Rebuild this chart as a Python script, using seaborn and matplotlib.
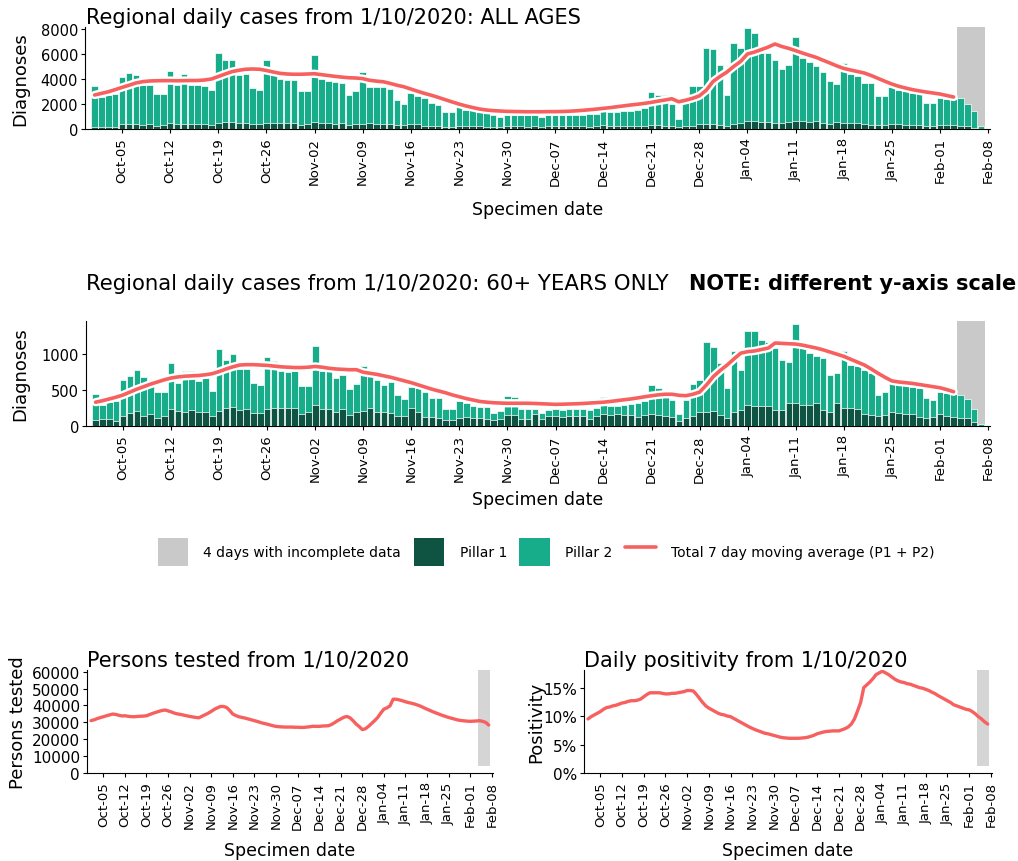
import matplotlib
matplotlib.use("Agg")
import matplotlib.pyplot as plt
import matplotlib.patheffects as pe
from matplotlib.patches import Patch
from matplotlib.lines import Line2D
import pandas as pd
import seaborn as sns

# ---- data (1 Oct 2020 .. 7 Feb 2021, one value per day) ----
dates = pd.date_range("2020-10-01", "2021-02-07", freq="D")
tick_labels = ["Oct-05", "Oct-12", "Oct-19", "Oct-26", "Nov-02", "Nov-09", "Nov-16",
               "Nov-23", "Nov-30", "Dec-07", "Dec-14", "Dec-21", "Dec-28", "Jan-04",
               "Jan-11", "Jan-18", "Jan-25", "Feb-01", "Feb-08"]

all_total = [3450, 2600, 2700, 2800, 4200, 4450, 4300,
             3500, 3500, 2800, 2800, 4650, 3500, 4400,
             3500, 3550, 3450, 3100, 6100, 5550, 5500,
             4300, 4400, 3300, 3150, 5500, 4800, 4000,
             3950, 3950, 3050, 3050, 5900, 4000, 3850,
             3750, 3700, 2750, 3050, 4550, 3400, 3400,
             3350, 3200, 2300, 2000, 2850, 2650, 2500,
             2100, 1950, 1350, 1350, 1750, 1550, 1500,
             1400, 1250, 1150, 950, 1150, 1150, 1100,
             1100, 1100, 950, 1100, 1100, 1100, 1100,
             1150, 1150, 1200, 1200, 2000, 1350, 1400,
             1450, 1450, 1500, 1650, 3000, 2750, 2750,
             2000, 800, 2100, 3450, 3450, 6500, 6400,
             5100, 2700, 6850, 6450, 8100, 7650, 6100,
             6100, 5550, 4800, 5100, 7350, 5700, 5330,
             5070, 4540, 3880, 3620, 5300, 4400, 4250,
             3700, 3680, 2620, 2640, 3400, 3150, 3050,
             2880, 2860, 2050, 2050, 2500, 2400, 2380,
             2450, 1980, 1450, 280]
all_p1 = [200, 180, 190, 170, 380, 420, 430,
          350, 380, 260, 300, 450, 430, 420,
          440, 400, 410, 300, 520, 560, 600,
          480, 500, 380, 380, 520, 500, 480,
          490, 470, 330, 380, 600, 480, 470,
          420, 450, 320, 400, 430, 460, 400,
          400, 380, 300, 300, 430, 380, 280,
          260, 230, 180, 180, 240, 260, 240,
          230, 200, 170, 190, 280, 270, 220,
          200, 280, 190, 250, 260, 240, 250,
          250, 250, 190, 260, 290, 270, 270,
          270, 270, 230, 260, 320, 290, 280,
          250, 140, 230, 280, 400, 400, 430,
          330, 230, 420, 450, 650, 620, 600,
          600, 500, 480, 600, 680, 620, 600,
          620, 480, 420, 580, 520, 500, 480,
          380, 360, 320, 340, 420, 380, 360,
          360, 300, 260, 280, 340, 310, 290,
          270, 240, 120, 20]
all_avg = [2720, 2850, 2980, 3150, 3330, 3500, 3680,
           3790, 3840, 3860, 3870, 3870, 3860, 3870,
           3880, 3880, 3920, 4000, 4200, 4400, 4590,
           4700, 4780, 4800, 4780, 4680, 4560, 4450,
           4400, 4380, 4380, 4400, 4420, 4350, 4280,
           4210, 4150, 4100, 4080, 4030, 3900, 3830,
           3780, 3650, 3500, 3380, 3200, 3020, 2850,
           2700, 2530, 2350, 2170, 2000, 1850, 1720,
           1600, 1520, 1470, 1440, 1410, 1400, 1390,
           1380, 1380, 1380, 1390, 1390, 1400, 1420,
           1450, 1490, 1540, 1590, 1650, 1710, 1780,
           1850, 1920, 1980, 2050, 2130, 2230, 2320,
           2420, 2180, 2300, 2450, 2650, 3100, 3800,
           4200, 4550, 5000, 5400, 6000, 6150, 6350,
           6550, 6800, 6600, 6450, 6270, 6080, 5900,
           5730, 5500, 5280, 5050, 4850, 4720, 4600,
           4480, 4280, 4050, 3820, 3600, 3420, 3280,
           3150, 3050, 2960, 2880, 2800, 2680, 2560]

old_total = [440, 290, 330, 350, 640, 695, 780,
             685, 555, 475, 470, 870, 600, 760,
             760, 625, 660, 485, 1070, 915, 995,
             785, 785, 590, 570, 950, 900, 765,
             755, 765, 555, 555, 1115, 765, 765,
             660, 710, 515, 580, 830, 790, 640,
             570, 615, 430, 375, 545, 525, 470,
             385, 385, 235, 235, 340, 315, 280,
             270, 260, 185, 210, 410, 400, 235,
             230, 235, 175, 220, 230, 220, 230,
             230, 230, 215, 255, 405, 280, 280,
             290, 300, 315, 340, 570, 525, 400,
             360, 160, 360, 580, 640, 1160, 1090,
             870, 525, 1045, 780, 1310, 1310, 1195,
             1170, 1080, 915, 885, 1410, 1080, 1010,
             975, 940, 710, 730, 1040, 850, 825,
             780, 730, 430, 475, 650, 600, 570,
             545, 530, 385, 360, 470, 455, 445,
             430, 375, 230, 25]
old_p1 = [83, 92, 97, 70, 140, 185, 210,
          140, 160, 105, 140, 230, 210, 200,
          220, 190, 200, 140, 210, 245, 270,
          215, 230, 185, 185, 230, 255, 255,
          255, 245, 165, 200, 290, 230, 230,
          190, 230, 150, 200, 210, 245, 200,
          200, 185, 145, 145, 245, 200, 130,
          130, 105, 83, 83, 115, 130, 115,
          115, 92, 83, 92, 150, 150, 92,
          97, 160, 97, 140, 145, 130, 140,
          140, 140, 97, 140, 160, 150, 160,
          150, 150, 130, 150, 165, 150, 140,
          130, 70, 115, 140, 200, 190, 210,
          150, 105, 200, 220, 290, 280, 280,
          280, 220, 220, 315, 325, 290, 290,
          315, 220, 200, 315, 245, 245, 230,
          160, 150, 140, 150, 200, 175, 160,
          165, 130, 105, 130, 160, 140, 130,
          115, 105, 50, 5]
old_avg = [330, 350, 375, 400, 430, 470, 510,
           545, 580, 610, 640, 665, 680, 690,
           695, 700, 710, 725, 755, 790, 820,
           845, 850, 850, 845, 840, 830, 820,
           815, 810, 810, 815, 825, 815, 800,
           790, 785, 780, 780, 745, 730, 715,
           695, 675, 650, 625, 600, 570, 540,
           510, 485, 460, 430, 405, 380, 360,
           340, 330, 322, 318, 315, 315, 315,
           315, 312, 308, 304, 300, 302, 305,
           308, 312, 318, 324, 330, 340, 352,
           364, 375, 390, 405, 420, 432, 440,
           440, 425, 420, 440, 470, 570, 685,
           770, 845, 930, 1010, 1030, 1040, 1060,
           1080, 1150, 1145, 1140, 1135, 1120, 1100,
           1080, 1055, 1025, 995, 965, 925, 885,
           845, 790, 730, 675, 625, 610, 600,
           590, 575, 560, 545, 530, 505, 475]

persons_tested = [31000, 31500, 32200, 32800, 33300, 33900, 34400,
                  34900, 34700, 34200, 33800, 33900, 33600, 33400,
                  33300, 33500, 33600, 33700, 33900, 34600, 35300,
                  35900, 36500, 37000, 37300, 36800, 36200, 35500,
                  35000, 34700, 34300, 33900, 33500, 33200, 32900,
                  32700, 33600, 34500, 35400, 36500, 37700, 38600,
                  39400, 39400, 38800, 37000, 34900, 34000, 33300,
                  32900, 32500, 32000, 31500, 31000, 30500, 29900,
                  29400, 29000, 28500, 28000, 27600, 27400, 27300,
                  27200, 27200, 27200, 27100, 27100, 27000, 27000,
                  27200, 27400, 27700, 27600, 27600, 27800, 27900,
                  28000, 28700, 29800, 31000, 32000, 33000, 33500,
                  32700, 31000, 29000, 27500, 25700, 26200, 27600,
                  29300, 31000, 32900, 35500, 37800, 38600, 39800,
                  43700, 43700, 43300, 42800, 42200, 41700, 41300,
                  40800, 40200, 39500, 38600, 37800, 37000, 36200,
                  35500, 34800, 34100, 33500, 32900, 32400, 31900,
                  31400, 31100, 30900, 30700, 30600, 30700, 30800,
                  31000, 30600, 30000, 28400]
positivity = [9.5, 9.9, 10.2, 10.5, 10.8, 11.2, 11.5,
              11.6, 11.8, 11.9, 12.1, 12.3, 12.4, 12.6,
              12.7, 12.7, 12.8, 13.0, 13.4, 13.8, 14.1,
              14.1, 14.1, 14.1, 14.0, 13.9, 13.9, 14.0,
              14.0, 14.1, 14.2, 14.3, 14.5, 14.5, 14.4,
              13.8, 13.1, 12.4, 11.8, 11.4, 11.1, 10.8,
              10.5, 10.3, 10.2, 10.0, 9.9, 9.6, 9.3,
              9.0, 8.7, 8.4, 8.1, 7.85, 7.6, 7.4,
              7.2, 7.0, 6.9, 6.75, 6.6, 6.45, 6.3,
              6.2, 6.15, 6.1, 6.1, 6.1, 6.1, 6.15,
              6.2, 6.3, 6.45, 6.65, 6.9, 7.05, 7.2,
              7.3, 7.35, 7.4, 7.4, 7.4, 7.6, 7.8,
              8.1, 8.6, 9.5, 10.9, 12.4, 15.0, 15.5,
              16.0, 16.6, 17.3, 17.6, 17.9, 17.6, 17.3,
              16.9, 16.5, 16.2, 16.0, 15.9, 15.7, 15.6,
              15.4, 15.2, 15.0, 14.9, 14.7, 14.5, 14.2,
              13.95, 13.6, 13.3, 13.0, 12.7, 12.4, 12.0,
              11.8, 11.6, 11.4, 11.2, 11.1, 10.8, 10.4,
              9.9, 9.5, 9.0, 8.6]

TEAL = "#17ad8b"
DARK = "#0f5443"
RED = "#f6615f"
GREY = "#c9c9c9"

sns.set_style("ticks", {"axes.edgecolor": "black", "text.color": "black",
                        "axes.labelcolor": "black", "xtick.color": "black",
                        "ytick.color": "black"})
plt.rcParams["font.family"] = ["DejaVu Sans"]

W, H = 1018, 862
fig = plt.figure(figsize=(W / 100, H / 100), dpi=100)


def box(x0, y0, x1, y1):
    # pixel box -> figure fraction [left, bottom, width, height]
    return [x0 / W, 1 - y1 / H, (x1 - x0) / W, (y1 - y0) / H]


tick_pos = list(range(4, len(dates) + 1, 7))
incomplete = (len(dates) - 4 - 0.5, len(dates) - 0.5)


def bar_panel(ax, total, p1, avg, ymax, yticks, ylab_x, xlab_y):
    df = pd.DataFrame({"day": range(len(total)), "total": total, "p1": p1})
    ax.axvspan(*incomplete, ymin=0, ymax=1, color=GREY, lw=0, zorder=0)
    sns.barplot(data=df, x="day", y="total", color=TEAL, saturation=1, width=0.95,
                edgecolor="white", linewidth=0.5, ax=ax, zorder=2)
    sns.barplot(data=df, x="day", y="p1", color=DARK, saturation=1, width=0.95,
                edgecolor="white", linewidth=0.5, ax=ax, zorder=3)
    sns.lineplot(x=list(range(len(avg))), y=avg, color=RED, linewidth=2.6, ax=ax,
                 zorder=5, path_effects=[pe.withStroke(linewidth=6, foreground="white")])
    ax.set_xlim(-1.4, len(dates) + 0.3)
    ax.set_ylim(0, ymax)
    ax.set_yticks(yticks)
    ax.set_xticks(tick_pos)
    ax.set_xticklabels(tick_labels, rotation=90, fontsize=9.5)
    ax.tick_params(axis="y", labelsize=10.5, length=3, pad=2)
    ax.tick_params(axis="x", length=3, pad=3)
    ax.set_ylabel("Diagnoses", fontsize=13)
    ax.set_xlabel("Specimen date", fontsize=12.5)
    ax.yaxis.set_label_coords(ylab_x, 0.5)
    ax.xaxis.set_label_coords(0.5, xlab_y)
    sns.despine(ax=ax)


ax1 = fig.add_axes(box(85, 28, 990, 130))
bar_panel(ax1, all_total, all_p1, all_avg, 8160, [0, 2000, 4000, 6000, 8000],
          (29 - 85) / 905, (130 - 201) / 102)

ax2 = fig.add_axes(box(86, 322, 990, 427))
bar_panel(ax2, old_total, old_p1, old_avg, 1455, [0, 500, 1000],
          (29 - 86) / 904, (427 - 491) / 105)

fig.text(86 / W, 1 - 18 / H, "Regional daily cases from 1/10/2020: ALL AGES",
         fontsize=15, va="center", ha="left")
fig.text(86 / W, 1 - 284 / H, "Regional daily cases from 1/10/2020: 60+ YEARS ONLY",
         fontsize=15.3, va="center", ha="left")
fig.text(1016 / W, 1 - 284 / H, "NOTE: different y-axis scale",
         fontsize=15, va="center", ha="right", fontweight="bold")

# legend row
handles = [Patch(facecolor=GREY, edgecolor="none"),
           Patch(facecolor=DARK, edgecolor="none"),
           Patch(facecolor=TEAL, edgecolor="none"),
           Line2D([0], [0], color=RED, lw=2.6)]
labels = ["4 days with incomplete data", "Pillar 1", "Pillar 2",
          "Total 7 day moving average (P1 + P2)"]
fig.legend(handles, labels, loc="center", bbox_to_anchor=(546 / W, 1 - 553 / H),
           ncol=4, frameon=False, fontsize=10, handlelength=2.2, handleheight=2.7,
           handletextpad=1.1, columnspacing=0.9)


def line_panel(ax, values, ymax, yticks, ylabel, title, ylab_x):
    ax.axvspan(*incomplete, ymin=0.07, ymax=1, color="#d5d5d5", lw=0, zorder=0)
    sns.lineplot(x=list(range(len(values))), y=values, color=RED, linewidth=2.4, ax=ax)
    ax.set_xlim(-1.3, len(dates) + 0.4)
    ax.set_ylim(0, ymax)
    ax.set_yticks(yticks)
    ax.set_xticks(tick_pos)
    ax.set_xticklabels(tick_labels, rotation=90, fontsize=9.5)
    ax.tick_params(axis="y", labelsize=11, length=3, pad=2)
    ax.tick_params(axis="x", length=3, pad=3)
    ax.set_ylabel(ylabel, fontsize=13)
    ax.set_xlabel("Specimen date", fontsize=12.5)
    ax.yaxis.set_label_coords(ylab_x, 0.5)
    ax.xaxis.set_label_coords(0.5, (774 - 842) / 103)
    ax.set_title(title, fontsize=15, loc="left", pad=1, x=0.0)
    sns.despine(ax=ax)


ax3 = fig.add_axes(box(87, 671, 493, 774))
line_panel(ax3, persons_tested, 61000, list(range(0, 60001, 10000)),
           "Persons tested", "Persons tested from 1/10/2020", (27 - 87) / 406)

ax4 = fig.add_axes(box(584, 671, 992, 774))
line_panel(ax4, positivity, 18.1, [0, 5, 10, 15], "Positivity",
           "Daily positivity from 1/10/2020", (545 - 584) / 408)
ax4.set_yticklabels(["0%", "5%", "10%", "15%"])

fig.savefig("out.png", dpi=100)
